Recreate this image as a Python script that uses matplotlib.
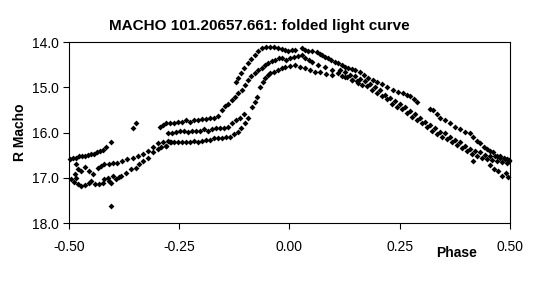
import matplotlib
matplotlib.use('Agg')
import matplotlib.pyplot as plt

plt.rcParams['font.family'] = ['Liberation Sans', 'DejaVu Sans']

# upper branch at the start of the cycle
phase_left_a = [-0.498, -0.491, -0.484, -0.477, -0.471, -0.464, -0.457, -0.450, -0.443, -0.437,
                -0.430, -0.423, -0.416, -0.405]
mag_left_a = [16.58, 16.56, 16.56, 16.53, 16.53, 16.51, 16.49, 16.47, 16.47, 16.42,
              16.40, 16.38, 16.33, 16.22]

# middle branch at the start of the cycle
phase_left_b = [-0.486, -0.484, -0.480, -0.473, -0.464, -0.455, -0.446, -0.434, -0.427, -0.421,
                -0.409, -0.400, -0.391, -0.379, -0.368, -0.355, -0.344, -0.332, -0.321, -0.310,
                -0.298, -0.287, -0.276]
mag_left_b = [16.91, 16.69, 16.80, 16.84, 16.76, 16.84, 16.91, 16.78, 16.73, 16.69,
              16.69, 16.67, 16.67, 16.62, 16.58, 16.56, 16.51, 16.47, 16.40, 16.33,
              16.24, 16.22, 16.18]

# faint branch at the start of the cycle
phase_left_c = [-0.495, -0.489, -0.484, -0.480, -0.473, -0.464, -0.455, -0.450, -0.441, -0.432,
                -0.423, -0.421, -0.412, -0.409, -0.405, -0.400, -0.393, -0.387, -0.382, -0.371,
                -0.360, -0.348, -0.341, -0.332, -0.321, -0.310, -0.298, -0.291, -0.280, -0.268]
mag_left_c = [17.02, 17.09, 17.00, 17.13, 17.18, 17.16, 17.11, 17.07, 17.13, 17.13,
              17.11, 17.02, 17.00, 17.07, 17.11, 16.96, 17.02, 16.98, 16.96, 16.89,
              16.80, 16.78, 16.69, 16.62, 16.56, 16.44, 16.36, 16.33, 16.29, 16.22]

# stray points
phase_odd = [-0.355, -0.348, -0.405]
mag_odd = [15.89, 15.80, 17.62]

# brightest rise, maximum and decline
phase_top = [-0.121, -0.117, -0.110, -0.103, -0.094, -0.087, -0.078, -0.071, -0.062, -0.053,
             -0.044, -0.035, -0.026, -0.017, -0.010, -0.003, 0.006, 0.013, 0.028, 0.035,
             0.042, 0.051, 0.062, 0.069, 0.074, 0.081, 0.087, 0.094, 0.103, 0.110,
             0.119, 0.126, 0.133, 0.142, 0.149, 0.160, 0.169, 0.178, 0.189, 0.198,
             0.210, 0.221, 0.235, 0.246, 0.257, 0.266, 0.273, 0.282, 0.289,
             0.319, 0.325, 0.335, 0.341, 0.353, 0.364, 0.375, 0.387, 0.398, 0.409,
             0.416, 0.425, 0.432, 0.441, 0.448, 0.455, 0.462, 0.471, 0.477, 0.486,
             0.493, 0.498]
mag_top = [14.89, 14.80, 14.69, 14.58, 14.47, 14.38, 14.29, 14.20, 14.13, 14.11,
           14.11, 14.11, 14.13, 14.16, 14.18, 14.20, 14.18, 14.18, 14.13, 14.18,
           14.20, 14.20, 14.22, 14.27, 14.29, 14.33, 14.36, 14.40, 14.44, 14.47,
           14.51, 14.56, 14.58, 14.60, 14.62, 14.67, 14.73, 14.80, 14.84, 14.89,
           14.93, 15.00, 15.07, 15.11, 15.13, 15.18, 15.20, 15.27, 15.33,
           15.47, 15.51, 15.60, 15.67, 15.73, 15.80, 15.87, 15.93, 15.98, 16.02,
           16.11, 16.18, 16.24, 16.31, 16.36, 16.40, 16.44, 16.51, 16.51, 16.56,
           16.58, 16.62]

# upper plateau, rise and second maximum
phase_mid = [-0.294, -0.287, -0.280, -0.271, -0.262, -0.253, -0.244, -0.235, -0.226, -0.217,
             -0.208, -0.198, -0.189, -0.180, -0.171, -0.162, -0.153, -0.146, -0.139, -0.130,
             -0.124, -0.117, -0.108, -0.101, -0.094, -0.087, -0.078, -0.071, -0.062, -0.056,
             -0.049, -0.039, -0.033, -0.024, -0.017, -0.008, 0.001, 0.010, 0.019, 0.028,
             0.035, 0.044, 0.051, 0.065, 0.080, 0.096, 0.110, 0.126, 0.142, 0.155]
mag_mid = [15.87, 15.84, 15.80, 15.78, 15.78, 15.76, 15.76, 15.73, 15.76, 15.73,
           15.73, 15.71, 15.71, 15.69, 15.67, 15.64, 15.51, 15.42, 15.36, 15.29,
           15.22, 15.13, 15.07, 14.96, 14.84, 14.76, 14.69, 14.62, 14.58, 14.51,
           14.47, 14.42, 14.40, 14.36, 14.36, 14.40, 14.36, 14.33, 14.31, 14.29,
           14.36, 14.40, 14.44, 14.51, 14.56, 14.62, 14.69, 14.78, 14.84, 14.91]

# middle plateau
phase_flat = [-0.276, -0.266, -0.257, -0.248, -0.239, -0.230, -0.221, -0.212, -0.203, -0.194,
              -0.185, -0.176, -0.167, -0.158, -0.149, -0.139, -0.130, -0.121, -0.112, -0.103]
mag_flat = [16.02, 16.00, 15.98, 15.96, 15.96, 15.98, 15.96, 15.96, 15.96, 15.93,
            15.96, 15.93, 15.91, 15.91, 15.89, 15.87, 15.78, 15.73, 15.69, 15.58]

# lower plateau, late rise and third maximum
phase_low = [-0.280, -0.271, -0.262, -0.253, -0.244, -0.235, -0.226, -0.217, -0.208, -0.198,
             -0.189, -0.180, -0.171, -0.162, -0.153, -0.144, -0.135, -0.126, -0.117, -0.110,
             -0.101, -0.094, -0.085, -0.078, -0.074, -0.067, -0.060, -0.056, -0.049, -0.044,
             -0.035, -0.026, -0.017, -0.010, 0.001, 0.012, 0.024, 0.035, 0.046, 0.058,
             0.069, 0.083, 0.096]
mag_low = [16.29, 16.22, 16.20, 16.22, 16.22, 16.20, 16.20, 16.18, 16.20, 16.18,
           16.16, 16.16, 16.13, 16.13, 16.13, 16.11, 16.09, 16.04, 15.98, 15.89,
           15.78, 15.67, 15.44, 15.33, 15.22, 15.00, 14.89, 14.80, 14.73, 14.69,
           14.67, 14.62, 14.58, 14.56, 14.53, 14.51, 14.56, 14.58, 14.62, 14.67,
           14.67, 14.71, 14.73]

# dense decline band (two overlapping cycles)
phase_band_a = [0.115, 0.126, 0.137, 0.149, 0.160, 0.171, 0.183, 0.194, 0.205, 0.217,
                0.228, 0.239, 0.251, 0.262, 0.273, 0.285, 0.296, 0.307, 0.319, 0.330,
                0.341, 0.353, 0.364, 0.375, 0.387, 0.398, 0.409, 0.421, 0.432, 0.443,
                0.455, 0.466, 0.477, 0.489, 0.498]
mag_band_a = [14.62, 14.67, 14.73, 14.76, 14.82, 14.87, 14.93, 15.00, 15.07, 15.16,
              15.24, 15.31, 15.38, 15.44, 15.53, 15.60, 15.69, 15.76, 15.84, 15.91,
              15.98, 16.02, 16.09, 16.16, 16.22, 16.29, 16.36, 16.40, 16.44, 16.49,
              16.51, 16.53, 16.56, 16.58, 16.60]

phase_band_b = [0.119, 0.130, 0.142, 0.153, 0.164, 0.176, 0.187, 0.198, 0.210, 0.221,
                0.232, 0.244, 0.255, 0.266, 0.278, 0.289, 0.300, 0.312, 0.323, 0.334,
                0.346, 0.357, 0.368, 0.380, 0.391, 0.402, 0.414, 0.425, 0.437, 0.448,
                0.459, 0.471, 0.482, 0.493]
mag_band_b = [14.74, 14.78, 14.83, 14.87, 14.94, 14.98, 15.05, 15.12, 15.20, 15.27,
              15.36, 15.43, 15.49, 15.56, 15.65, 15.72, 15.80, 15.87, 15.96, 16.03,
              16.09, 16.14, 16.20, 16.27, 16.34, 16.40, 16.47, 16.52, 16.56, 16.58,
              16.60, 16.63, 16.65, 16.67]

# faint points at the end of the cycle
phase_end = [0.416, 0.455, 0.464, 0.473, 0.482, 0.491, 0.495]
mag_end = [16.62, 16.71, 16.80, 16.84, 16.96, 16.89, 16.98]

fig = plt.figure(figsize=(5.4, 2.96), dpi=100)
ax = fig.add_axes([0.1278, 0.2466, 0.8166, 0.6114])

groups = [
    (phase_left_a, mag_left_a), (phase_left_b, mag_left_b), (phase_left_c, mag_left_c),
    (phase_odd, mag_odd), (phase_top, mag_top), (phase_mid, mag_mid),
    (phase_flat, mag_flat), (phase_low, mag_low), (phase_band_a, mag_band_a),
    (phase_band_b, mag_band_b), (phase_end, mag_end),
]
for ph, mg in groups:
    ax.plot(ph, mg, linestyle='none', marker='D', markersize=3.0,
            color='black', markeredgewidth=0, clip_on=False)

ax.set_xlim(-0.5, 0.5)
ax.set_ylim(18.0, 14.0)
ax.set_xticks([-0.5, -0.25, 0.0, 0.25, 0.5])
ax.set_xticklabels(['-0.50', '-0.25', '0.00', '0.25', '0.50'])
ax.set_yticks([14, 15, 16, 17, 18])
ax.set_yticklabels(['14.0', '15.0', '16.0', '17.0', '18.0'])
ax.tick_params(direction='out', length=4, width=0.8, labelsize=10, colors='black', pad=3)
ax.tick_params(axis='x', pad=8)
for s in ax.spines.values():
    s.set_linewidth(0.8)
    s.set_color('black')

fig.text(0.4806, 0.912, 'MACHO 101.20657.661: folded light curve',
         ha='center', va='center', fontsize=11, fontweight='bold')
fig.text(0.037, 0.553, 'R Macho', rotation=90, ha='center', va='center',
         fontsize=10, fontweight='bold')
fig.text(0.845, 0.145, 'Phase', ha='center', va='center', fontsize=10, fontweight='bold')

fig.savefig('out.png', dpi=100)
